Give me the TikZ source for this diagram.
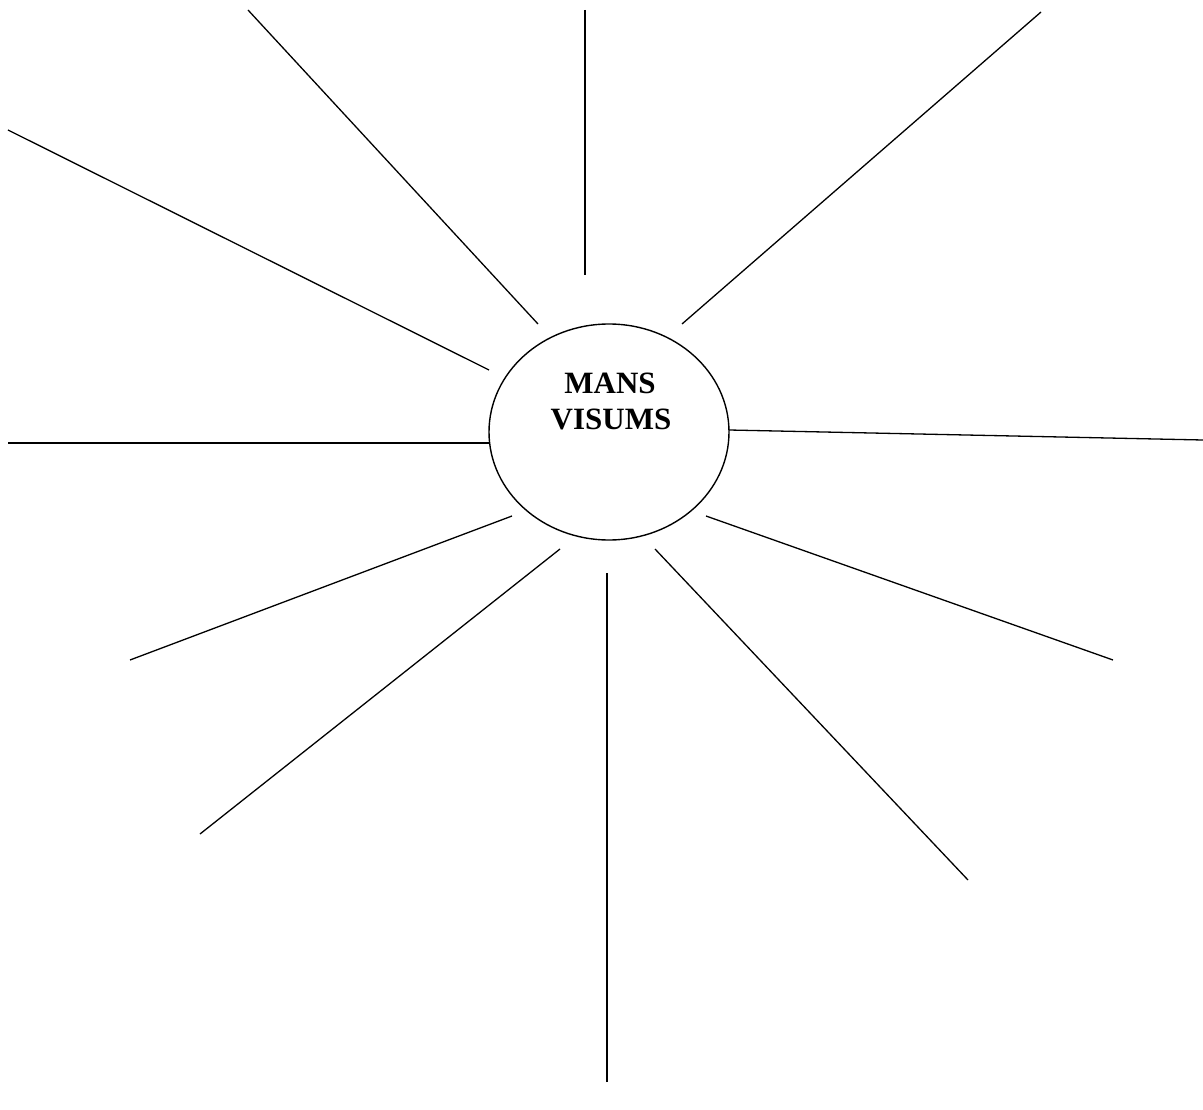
\documentclass[tikz,border=0pt]{standalone}
\usepackage{fontspec}
\setmainfont{Liberation Serif}
\usetikzlibrary{shapes.geometric}
\begin{document}
\begin{tikzpicture}[x=1pt,y=-1pt,ray/.style={line width=1.3pt,black}]
\useasboundingbox (0,0) rectangle (1203,1110);
\draw[line width=1.4pt] (609,432) ellipse [x radius=120, y radius=108];
\node[font=\fontsize{31}{36}\selectfont\bfseries,align=center,anchor=base] (t1) at (610,393) {MANS};
\node[font=\fontsize{31}{36}\selectfont\bfseries,align=center,anchor=base] (t2) at (611,429) {VISUMS};
\coordinate (a1) at (248,10); \coordinate (b1) at (538,324);
\coordinate (a2) at (585,10); \coordinate (b2) at (585,275);
\coordinate (a3) at (1041,12); \coordinate (b3) at (682,324);
\coordinate (a4) at (8,130); \coordinate (b4) at (489,370);
\coordinate (a5) at (8,443); \coordinate (b5) at (489,443);
\coordinate (a6) at (1203,440); \coordinate (b6) at (729,430);
\coordinate (a7) at (130,660); \coordinate (b7) at (512,516);
\coordinate (a8) at (200,834); \coordinate (b8) at (560,549);
\coordinate (a9) at (607,1082); \coordinate (b9) at (607,573);
\coordinate (a10) at (968,880); \coordinate (b10) at (655,549);
\coordinate (a11) at (1113,660); \coordinate (b11) at (706,516);
\foreach \i in {1,...,11} {\draw[ray] (a\i) -- (b\i);}
\end{tikzpicture}
\end{document}
